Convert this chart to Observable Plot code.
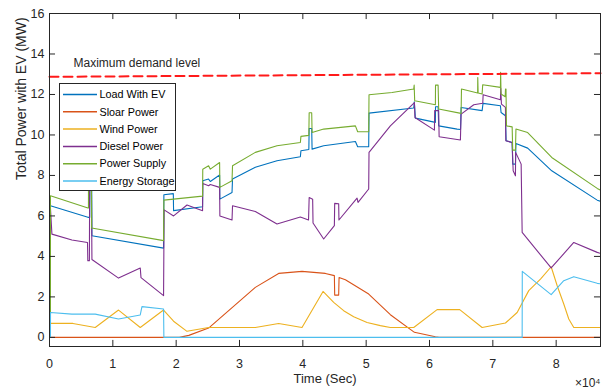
<!DOCTYPE html>
<html><head><meta charset="utf-8">
<script src="https://cdn.jsdelivr.net/npm/d3@7"></script>
<script src="https://cdn.jsdelivr.net/npm/@observablehq/plot@0.6"></script>
<style>
body{margin:0;background:#fff;}
#wrap{position:relative;width:608px;height:392px;font-family:"Liberation Sans",Arial,sans-serif;}
#legend{position:absolute;left:59px;top:83px;}
</style></head><body><div id="wrap"></div>
<script>
const seriesNames = ["Load With EV","Sloar Power","Wind Power","Diesel Power","Power Supply","Energy Storage"];
const seriesColors = ["#0072BD","#D95319","#EDB120","#7E2F8E","#77AC30","#4DBEEE"];

const loadWithEV = [[0,0],[150,0],[150,6.5],[6070,5.93],[6350,5.93],[6400,8.6],[6650,8.6],[6700,5.02],[18010,4.41],[18060,7.05],[19550,7.1],[19590,6.26],[24170,6.45],[24200,7.74],[25120,7.82],[25390,7.7],[26860,8.02],[26900,6.83],[28820,7.16],[28900,7.82],[32500,8.4],[35920,8.73],[39610,8.92],[39700,9.22],[40950,9.28],[41000,10.32],[41400,10.32],[41460,9.3],[43290,9.47],[48300,9.68],[48660,9.42],[50400,9.42],[50450,11.08],[57510,11.33],[57600,11.64],[57770,10.83],[60930,10.62],[60950,11.39],[61360,11.39],[61450,10.45],[64360,10.29],[64900,10.27],[64990,11.36],[68310,11.2],[68450,11.56],[71200,11.44],[71300,11.11],[71990,10.95],[72100,9.71],[73050,9.63],[73140,8.56],[73570,8.56],[73650,9.58],[75500,9.35],[79300,8.23],[86480,6.78],[87000,6.72]];
const solarPower = [[0,0],[20500,0],[22000,0.1],[25120,0.46],[32500,2.47],[36180,3.16],[39870,3.26],[43560,3.16],[44980,3.05],[45030,2.09],[45660,2.09],[45720,2.96],[46720,2.85],[50400,2.14],[53820,1.12],[57620,0.25],[60930,0.03],[61500,0],[87000,0]];
const windPower = [[0,0],[150,0],[150,0.69],[3700,0.69],[7220,0.49],[10900,1.35],[14330,0.49],[18010,1.35],[19590,0.8],[21710,0.3],[25120,0.49],[32500,0.49],[36180,0.69],[39870,0.49],[43190,2.27],[44870,1.73],[46450,1.32],[48030,1.02],[50140,0.74],[52240,0.58],[53820,0.49],[57510,0.49],[61200,1.37],[64770,1.37],[68310,0.49],[71990,0.71],[73840,1.23],[75670,2.31],[77520,2.88],[79210,3.49],[80160,2.55],[81200,1.65],[81990,0.91],[82780,0.49],[87000,0.49]];
const dieselPower = [[0,0],[150,0],[150,6.4],[380,5.1],[3540,4.81],[6000,4.69],[6050,3.79],[6300,3.79],[6350,8.4],[6600,8.4],[6700,3.85],[10900,2.93],[14330,3.43],[14450,2.95],[18010,2.06],[18100,6.3],[19590,6.0],[21710,6.54],[24170,6.26],[24200,7.6],[25120,7.49],[25390,7.55],[26860,7.41],[26900,6.0],[28820,5.8],[28900,6.5],[32500,6.22],[35920,5.6],[39610,5.95],[40900,5.8],[41000,6.91],[41550,6.83],[41610,5.65],[43290,4.86],[44980,5.52],[45030,6.62],[45660,6.6],[45700,5.8],[48560,6.88],[48720,6.67],[50400,7.33],[50450,9.14],[53820,10.45],[57620,11.6],[57700,10.86],[60780,10.24],[60820,11.2],[61450,11.2],[61520,9.91],[64880,9.75],[64990,11.03],[66990,11.49],[68410,11.57],[68470,11.99],[71200,11.74],[71250,12.3],[71360,11.52],[71990,11.36],[72050,9.71],[73050,9.63],[73210,8.23],[73570,7.98],[73600,9.14],[74470,8.56],[74630,5.19],[79210,3.43],[82780,4.69],[86480,4.2],[87000,4.15]];
const powerSupply = [[0,0],[150,0],[150,7.0],[6070,6.39],[6150,6.39],[6160,8.8],[6600,8.8],[6650,5.4],[18010,4.78],[18060,6.78],[24170,6.98],[24200,8.31],[25120,8.48],[25390,8.31],[26860,8.64],[26900,7.41],[28820,7.74],[28900,8.48],[32500,9.14],[35920,9.47],[39610,9.63],[39700,9.93],[40950,9.98],[41000,11.1],[41400,11.1],[41460,10.12],[43290,10.29],[48300,10.45],[48660,10.16],[50400,10.16],[50450,11.99],[54090,12.1],[57510,12.27],[57580,12.46],[57660,11.69],[60930,11.49],[60950,12.46],[61360,12.46],[61450,11.28],[64770,11.08],[64990,11.06],[65050,12.27],[67600,12.07],[67620,12.84],[67680,12.07],[68310,12.02],[68400,12.48],[71200,12.35],[71230,13.09],[71300,12.02],[71950,11.89],[72000,12.27],[72080,12.27],[72150,10.45],[73050,10.4],[73140,9.25],[73570,9.25],[73650,10.29],[75500,10.12],[79300,8.89],[86480,7.36],[87000,7.28]];
const energyStorage = [[0,0],[150,0],[160,1.23],[3540,1.15],[7220,1.15],[10900,0.91],[14330,1.11],[14600,1.52],[18010,1.4],[18060,0],[74630,0],[74650,3.26],[79210,2.11],[81200,2.8],[82780,3.0],[86480,2.67],[87000,2.65]];

const demandLine = [[0,12.87],[87000,13.05]];
const demandLabel = "Maximum demand level";
const xTicks = [0,10000,20000,30000,40000,50000,60000,70000,80000];
const yTicks = [0,2,4,6,8,10,12,14,16];
const xTitle = "Time (Sec)";
const yTitle = "Total Power with EV (MW)";
const xExponent = "×10⁴";

const series = [loadWithEV, solarPower, windPower, dieselPower, powerSupply, energyStorage];
const rows = series.flatMap((s,i)=> s.map(([t,v])=>({t, v, name: seriesNames[i]})));

const X0 = 0, X1 = 87000, Y0 = -0.45, Y1 = 16;
const ink = "#262626";
const tickLenY = 0.3;   // inward tick length on x axes (y units)
const tickLenX = 950;   // inward tick length on y axes (x units)

const chart = Plot.plot({
  width: 608, height: 392,
  marginLeft: 49, marginRight: 8, marginTop: 13, marginBottom: 46,
  style: {fontFamily: '"Liberation Sans", Arial, sans-serif', fontSize: "12px", color: ink, background: "white"},
  x: {domain: [X0, X1], label: null},
  y: {domain: [Y0, Y1], label: null},
  color: {domain: seriesNames, range: seriesColors},
  marks: [
    Plot.line(rows, {x: "t", y: "v", z: "name", stroke: "name", strokeWidth: 1.1, clip: true}),
    Plot.line(demandLine, {x: d=>d[0], y: d=>d[1], stroke: "#FF1A1A", strokeWidth: 2, strokeDasharray: "9,5"}),
    Plot.text([demandLabel], {frameAnchor: "top-left", dx: 24, dy: 45, textAnchor: "start", fontSize: 12, fill: ink}),
    Plot.frame({stroke: ink, strokeWidth: 1}),
    Plot.ruleX(xTicks, {x: d=>d, y1: Y0, y2: Y0 + tickLenY, stroke: ink}),
    Plot.ruleX(xTicks, {x: d=>d, y1: Y1 - tickLenY, y2: Y1, stroke: ink}),
    Plot.ruleY(yTicks, {y: d=>d, x1: X0, x2: X0 + tickLenX, stroke: ink}),
    Plot.ruleY(yTicks, {y: d=>d, x1: X1 - tickLenX, x2: X1, stroke: ink}),
    Plot.axisX({ticks: xTicks, tickFormat: d => d/10000, tickSize: 0, tickPadding: 13, fontSize: 12.5, label: null}),
    Plot.axisY({ticks: yTicks, tickSize: 0, tickPadding: 5, fontSize: 12.5, label: null}),
    Plot.text([xTitle], {frameAnchor: "bottom", dy: 36, fontSize: 13, fill: ink}),
    Plot.text([yTitle], {frameAnchor: "left", dx: -28, rotate: -90, fontSize: 14, fill: ink}),
    Plot.text([xExponent], {frameAnchor: "bottom-right", dy: 40, textAnchor: "end", fontSize: 12, fill: ink})
  ]
});
const wrap = document.getElementById("wrap");
wrap.appendChild(chart);

// legend overlay
const lg = d3.select(wrap).append("svg").attr("id","legend").attr("width",117).attr("height",108);
lg.append("rect").attr("x",0.5).attr("y",0.5).attr("width",116).attr("height",107).attr("fill","white").attr("stroke",ink).attr("stroke-width",1);
seriesNames.forEach((n,i)=>{
  const y = 11.5 + 17.3*i;
  lg.append("line").attr("x1",4).attr("x2",38).attr("y1",y).attr("y2",y).attr("stroke",seriesColors[i]).attr("stroke-width",1.5);
  lg.append("text").attr("x",40.5).attr("y",y).attr("dy","0.35em").attr("font-size",10.8).attr("fill","#000").attr("font-family",'"Liberation Sans", Arial, sans-serif').text(n);
});
</script></body></html>
